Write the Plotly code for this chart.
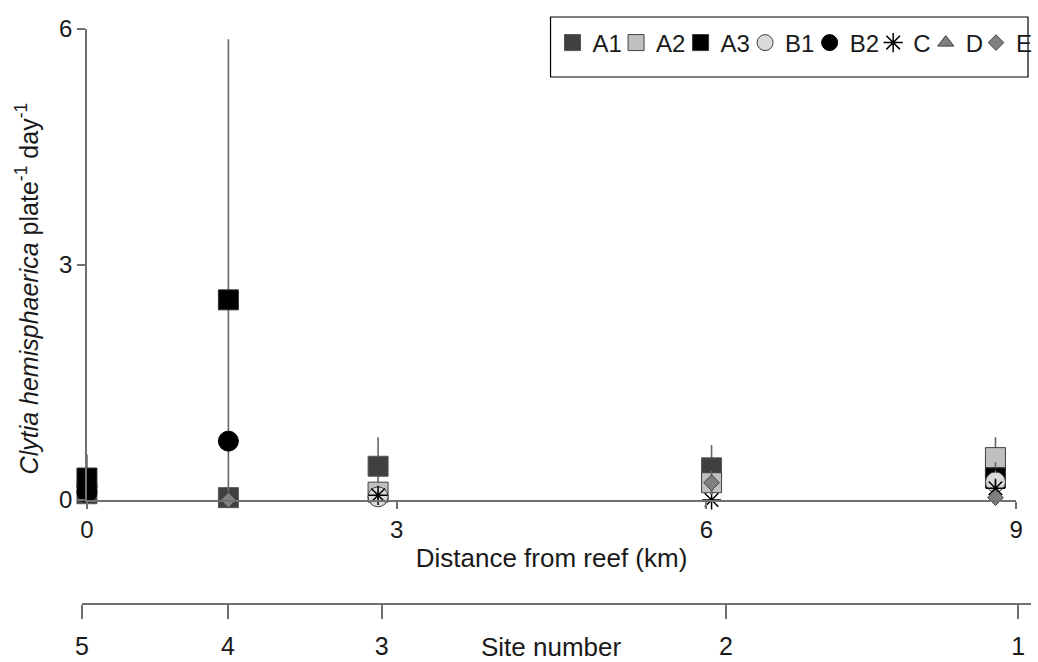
import plotly.graph_objects as go

# ---------------- data ----------------
site_km = [0.0, 1.37, 2.82, 6.05, 8.8]          # sites 5,4,3,2,1 (distance from reef, km)
series_names = ["A1", "A2", "A3", "B1", "B2", "C", "D", "E"]

# None = no value shown at that site
A1 = [0.08, 0.03, 0.43, 0.41, 0.40]
A2 = [None, None, 0.10, 0.22, 0.54]
A3 = [0.28, 2.55, None, None, 0.28]
B1 = [None, None, 0.04, None, 0.23]
B2 = [0.10, 0.75, None, None, None]
C = [None, None, 0.06, 0.00, 0.15]
D = [None, None, None, None, None]
E = [None, 0.00, None, 0.22, 0.03]

A1_sd = [0.10, 0.05, 0.37, 0.29, 0.15]
A2_sd = [None, None, 0.10, 0.15, 0.26]
A3_sd = [0.30, 3.32, None, None, 0.20]
B1_sd = [None, None, 0.04, None, 0.15]
B2_sd = [0.10, 0.00, None, None, None]
C_sd = [None, None, 0.05, 0.02, 0.10]
D_sd = [None, None, None, None, None]
E_sd = [None, 0.00, None, 0.15, 0.03]

x_tick_vals = [0, 3, 6, 9]
y_tick_vals = [0, 3, 6]
site_tick_km = [-0.048, 1.365, 2.856, 6.19, 9.02]
site_tick_labels = ["5", "4", "3", "2", "1"]

values = [A1, A2, A3, B1, B2, C, D, E]
sds = [A1_sd, A2_sd, A3_sd, B1_sd, B2_sd, C_sd, D_sd, E_sd]

# ---------------- styles ----------------
FONT = "Arial, 'Liberation Sans', sans-serif"
TXT = "#1a1a1a"
AX = "#707070"
styles = {
    "A1": dict(symbol="square", size=20, color="#404040", line=dict(color="#555555", width=1)),
    "A2": dict(symbol="square", size=20, color="#c0c0c0", line=dict(color="#404040", width=1)),
    "A3": dict(symbol="square", size=20, color="#000000", line=dict(color="#333333", width=1)),
    "B1": dict(symbol="circle", size=20, color="#d9d9d9", line=dict(color="#404040", width=1)),
    "B2": dict(symbol="circle", size=20, color="#000000", line=dict(color="#000000", width=1)),
    "C": dict(symbol="asterisk-open", size=16, color="#000000", line=dict(color="#202020", width=1.5)),
    "D": dict(symbol="triangle-up", size=14, color="#808080", line=dict(color="#404040", width=1)),
    "E": dict(symbol="diamond", size=12, color="#808080", line=dict(color="#404040", width=1)),
}

# legend symbol centre positions (px)
legend_sym_px = [574, 638, 703, 768, 833, 897, 950, 1001]

W, H = 1038, 662
ML, MR, MT, MB = 82, 0, 29, 40
PW, PH = W - ML - MR, H - MT - MB


def px_to_paper_x(px):
    return (px - ML) / PW


def px_to_paper_y(py):
    return (H - MB - py) / PH


fig = go.Figure()

for i, name in enumerate(series_names):
    y = values[i]
    sd = sds[i]
    minus = [None if (s is None or v is None) else min(s, v) for s, v in zip(sd, y)]
    plus = [None if v is None else s for s, v in zip(sd, y)]
    st = styles[name]
    lg = "legend" if i == 0 else f"legend{i + 1}"
    fig.add_trace(go.Scatter(
        x=site_km, y=y, name=name, mode="markers",
        marker=dict(symbol=st["symbol"], size=st["size"], color=st["color"], line=st["line"]),
        error_y=dict(type="data", array=plus, arrayminus=minus, symmetric=False,
                     color="#666666", thickness=1.6, width=0),
        cliponaxis=False, legend=lg, showlegend=True,
    ))

# invisible trace carrying the second (site number) axis
fig.add_trace(go.Scatter(x=site_tick_km, y=[None] * len(site_tick_km), xaxis="x2", yaxis="y",
                         mode="markers", showlegend=False, hoverinfo="skip"))

layout_legends = {}
for i, spx in enumerate(legend_sym_px):
    key = "legend" if i == 0 else f"legend{i + 1}"
    layout_legends[key] = dict(
        x=px_to_paper_x(spx - 18), xanchor="left",
        y=px_to_paper_y(43), yanchor="middle",
        bgcolor="rgba(0,0,0,0)", borderwidth=0,
        font=dict(family=FONT, size=24, color=TXT),
        orientation="h",
    )

fig.update_layout(
    width=W, height=H,
    margin=dict(l=ML, r=MR, t=MT, b=MB, pad=0),
    paper_bgcolor="white", plot_bgcolor="rgba(0,0,0,0)",
    font=dict(family=FONT, size=24, color=TXT),
    showlegend=True,
    xaxis=dict(
        domain=[px_to_paper_x(87), px_to_paper_x(1023)],
        range=[0, 9], tickvals=x_tick_vals, ticktext=[str(v) for v in x_tick_vals],
        showline=True, linecolor=AX, linewidth=1.5, ticks="outside", ticklen=7,
        tickcolor=AX, tickwidth=1.5, showgrid=False, zeroline=False,
        tickfont=dict(size=24, color=TXT),
        title=dict(text="Distance from reef (km)", font=dict(size=26, color=TXT), standoff=7),
    ),
    yaxis=dict(
        domain=[px_to_paper_y(500), px_to_paper_y(29)],
        range=[0, 6], tickvals=y_tick_vals,
        showline=True, linecolor=AX, linewidth=1.5, ticks="outside", ticklen=8,
        tickcolor=AX, tickwidth=1.5, showgrid=False, zeroline=False,
        tickfont=dict(size=24, color=TXT),
    ),
    xaxis2=dict(
        domain=[0, 1], anchor="free", position=px_to_paper_y(604),
        range=[-0.048, 9.144],
        tickvals=site_tick_km, ticktext=site_tick_labels,
        showline=True, linecolor=AX, linewidth=1.5, ticks="outside", ticklen=14,
        tickcolor=AX, tickwidth=1.5, showgrid=False, zeroline=False,
        tickfont=dict(size=25, color=TXT), ticklabelstandoff=6,
    ),
    shapes=[dict(type="rect", xref="paper", yref="paper",
                 x0=px_to_paper_x(554), x1=px_to_paper_x(1035),
                 y0=px_to_paper_y(77), y1=px_to_paper_y(17),
                 line=dict(color="#000000", width=1.2), fillcolor="rgba(0,0,0,0)")],
    annotations=[
        dict(text="<i>Clytia hemisphaerica</i> plate<sup>-1</sup> day<sup>-1</sup>",
             xref="paper", yref="paper", x=px_to_paper_x(27), y=px_to_paper_y(288),
             xanchor="center", yanchor="middle", textangle=-90, showarrow=False,
             font=dict(size=25, color=TXT)),
        dict(text="Site number", xref="paper", yref="paper",
             x=px_to_paper_x(555), y=px_to_paper_y(647),
             xanchor="center", yanchor="middle", showarrow=False,
             font=dict(size=26, color=TXT)),
    ],
    **layout_legends,
)

fig.write_html("out.html", config={"displayModeBar": False},
               post_script="document.body.style.margin='0px';")
